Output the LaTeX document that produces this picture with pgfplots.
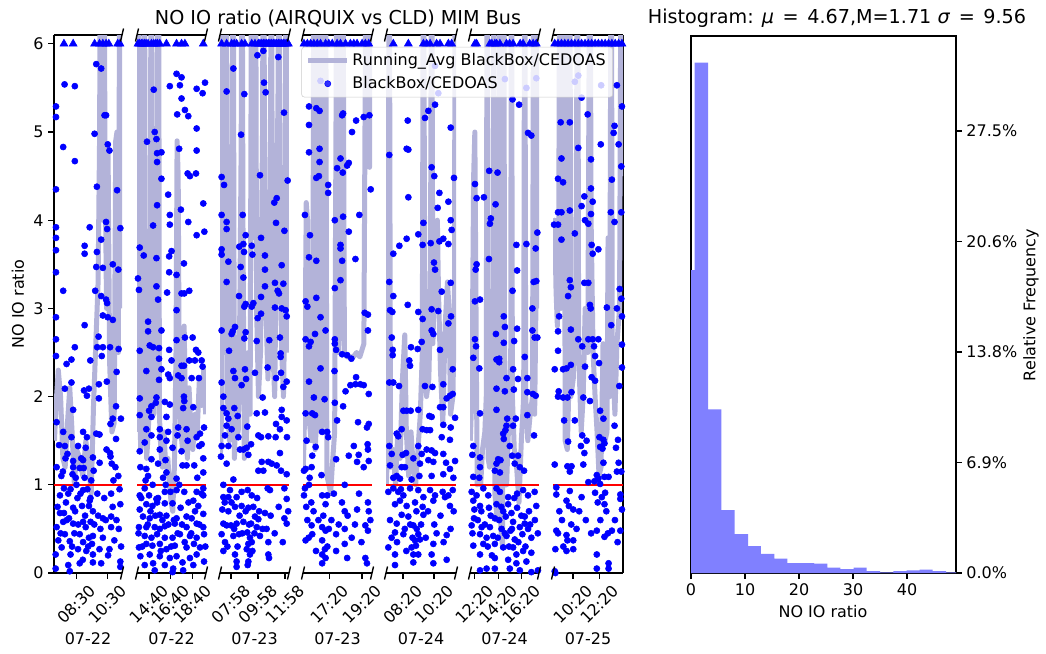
\documentclass[border=0pt]{standalone}
\usepackage{fontspec}
\setmainfont{DejaVu Sans}
\usepackage{pgfplots}
\pgfplotsset{compat=1.18}
\definecolor{avgc}{RGB}{179,179,217}
\definecolor{histc}{RGB}{128,128,255}
\newcommand{\tfont}{\fontsize{11.5}{13.8}\selectfont}
\newcommand{\hfont}{\fontsize{13.8}{16}\selectfont}
\pgfplotsset{
  brk/.style={
    scale only axis, height=387.36pt, anchor=south west,
    ymin=0, ymax=6.1, ytick={0,1,2,3,4,5,6},
    axis x line=box,
    xtick pos=bottom, xtick align=outside, ytick align=outside,
    major tick length=4pt,
    every tick/.style={black, line width=0.9pt},
    axis line style={line width=0.9pt, black},
    tick label style={font=\tfont},
    xticklabel style={yshift=-18.5pt, rotate=45, anchor=center},
    xlabel style={at={(axis description cs:0.5,0)}, anchor=center, yshift=-47.5pt, font=\tfont},
    /pgf/number format/assume math mode=true,
  },
  avg/.style={draw=avgc, line width=3.6pt, line join=round, no markers},
  pts/.style={only marks, mark=*, mark size=2.2pt, color=blue},
  tri/.style={only marks, mark=triangle*, mark size=3.3pt, color=blue, forget plot},
  one/.style={red, line width=1.7pt, forget plot},
  avgleg/.style={legend image code/.code={\draw[##1] (0pt,0pt) -- (28pt,0pt);}},
  ptsleg/.style={legend image code/.code={\path (0pt,0pt) (28pt,0pt); \draw[##1] plot coordinates {(14pt,0pt)};}},
}
\begin{document}
\begin{tikzpicture}
\useasboundingbox (0,0) rectangle (753.12pt,-470.88pt);

% ---------------- Panel 1 ----------------
\begin{axis}[brk, name=p1, at={(38.88pt,-412.56pt)}, width=48.96pt,
  xmin=7.02, xmax=11.46, axis y line*=left,
  xtick={8.5,10.5}, xticklabels={08:30,10:30}, xlabel={07-22}]
\addplot[avg] coordinates {(7.05,1.5)(7.15,1.9)(7.3,2.3)(7.45,2.0)(7.6,1.3)(7.75,1.2)(7.9,1.7)(8.05,2.1)(8.2,1.6)(8.35,1.0)(8.5,1.4)(8.7,1.3)(8.9,1.1)(9.1,1.5)(9.3,1.2)(9.45,0.9)(9.6,1.9)(9.75,2.6)(9.9,3.3)(10.0,5.0)(10.05,8)(10.12,4.5)(10.2,4.0)(10.27,8)(10.35,4.8)(10.45,3.0)(10.55,4.8)(10.65,2.4)(10.8,1.6)(10.95,1.7)(11.05,4.9)(11.13,5.0)(11.22,2.5)(11.33,8)(11.42,3.0)};
\addplot[pts] coordinates {(9.78,5.77)(10.10,5.72)(7.71,5.54)(8.38,5.52)(7.15,5.29)(7.15,5.17)(10.32,5.19)(10.42,5.19)(9.67,4.98)(7.62,4.83)(8.38,4.67)(10.53,4.86)(10.64,4.79)(7.15,4.35)(11.14,4.34)(9.82,4.38)(7.15,3.92)(9.35,3.92)(11.35,3.91)(10.42,3.98)(10.49,3.90)(10.10,3.78)(7.15,3.80)(7.15,3.66)(9.02,3.71)(9.02,3.62)(9.82,3.64)(9.78,3.47)(10.21,3.46)(10.86,3.50)(11.22,3.44)(7.15,3.41)(7.62,3.20)(9.71,3.20)(10.10,3.14)(10.42,3.10)(10.49,3.06)(10.21,2.92)(10.53,2.90)(10.86,2.87)(7.15,2.90)(9.02,2.81)(9.93,2.68)(7.15,2.65)(7.15,2.46)(8.38,2.56)(9.84,2.56)(10.21,2.56)(10.68,2.56)(11.24,2.54)(10.14,2.46)(9.39,2.41)(8.16,2.42)(7.84,2.37)(11.11,2.28)(8.16,2.16)(10.47,2.17)(9.30,2.09)(8.98,2.07)(9.95,2.14)(7.73,2.09)(9.17,2.01)(9.95,1.98)(8.27,1.85)(11.07,1.89)(10.86,1.75)(11.39,1.75)(10.71,1.69)(7.19,1.71)(7.62,1.60)(8.16,1.54)(8.92,1.60)(9.17,1.54)(9.78,1.58)(9.99,1.57)(11.07,1.52)(7.73,1.44)(8.59,1.44)(9.09,1.42)(10.68,1.36)(10.71,1.32)(7.77,1.30)(8.27,1.27)(8.92,1.28)(9.56,1.31)(7.19,1.20)(8.27,1.20)(8.70,1.19)(8.96,1.19)(10.79,1.24)(11.03,1.20)(8.23,1.12)(8.44,1.08)(9.02,1.08)(9.61,1.16)(11.22,1.10)(8.49,1.00)(7.67,0.96)(7.41,0.88)(7.95,0.90)(8.92,0.94)(10.75,0.90)(7.80,0.80)(9.35,0.82)(8.85,0.76)(9.30,0.76)(7.41,0.68)(7.67,0.68)(8.27,0.74)(9.56,0.70)(11.35,0.78)(10.75,0.64)(10.21,0.62)(7.62,0.58)(8.92,0.58)(9.41,0.58)(7.19,0.52)(8.27,0.56)(9.09,0.52)(10.75,0.52)(7.73,0.44)(8.70,0.44)(9.30,0.40)(9.56,0.42)(10.21,0.40)(7.30,0.37)(8.05,0.36)(8.92,0.35)(9.50,0.33)(10.96,0.37)(7.52,0.29)(8.59,0.27)(9.99,0.27)(9.13,0.25)(10.64,0.27)(7.13,0.21)(8.10,0.21)(9.56,0.21)(8.70,0.11)(9.56,0.12)(10.10,0.11)(7.95,0.09)(11.35,0.07)(8.05,0.02)(11.35,0.13)(7.13,0.05)(7.35,1.45)(7.5,1.1)(7.9,1.35)(8.0,0.62)(8.35,0.45)(8.55,0.85)(8.8,1.3)(9.2,0.95)(9.45,1.05)(9.85,0.9)(10.0,1.25)(10.3,0.85)(10.45,1.4)(10.9,1.05)(11.25,0.5)(11.4,0.3)(7.25,0.75)(7.45,0.45)(7.6,1.15)(7.85,0.6)(8.1,0.95)(8.2,0.3)(8.4,0.7)(8.6,0.55)(8.75,0.9)(8.9,0.15)(9.05,0.65)(9.25,0.3)(9.4,0.85)(9.65,0.55)(9.9,0.65)(10.05,0.5)(10.4,0.6)(10.55,0.2)(10.85,0.75)(11.1,0.6)(11.3,0.95)};
\addplot[tri] coordinates {(7.67,6)(8.27,6)(9.67,6)(9.99,6)(10.21,6)(10.42,6)(10.60,6)(11.18,6)(11.33,6)};
\addplot[one] coordinates {(7.02,1)(11.46,1)};
\end{axis}

% ---------------- Panel 2 ----------------
\begin{axis}[brk, name=p2, at={(98.64pt,-412.56pt)}, width=49.68pt,
  xmin=13.56, xmax=19.91, axis y line=none,
  xtick={14.6667,16.6667,18.6667}, xticklabels={14:40,16:40,18:40}, xlabel={07-22}]
\addplot[avg] coordinates {(13.58,1.6)(13.67,2.0)(13.72,8)(13.77,2.2)(13.9,1.4)(14.05,1.6)(14.18,2.0)(14.25,8)(14.32,1.8)(14.45,1.3)(14.6,1.6)(14.75,2.2)(14.87,8)(14.94,2.0)(15.1,1.8)(15.25,2.4)(15.38,3.0)(15.43,8)(15.5,6.0)(15.55,8)(15.62,1.8)(15.75,1.4)(15.9,1.2)(16.05,1.6)(16.2,1.2)(16.4,1.3)(16.55,1.0)(16.7,0.8)(16.85,0.7)(17.0,1.2)(17.15,2.5)(17.25,4.9)(17.35,4.5)(17.45,2.2)(17.6,1.6)(17.75,1.4)(17.9,2.8)(18.05,1.6)(18.2,1.3)(18.35,2.1)(18.5,1.7)(18.7,1.4)(18.9,1.8)(19.1,1.6)(19.3,2.2)(19.5,1.9)(19.7,2.3)(19.88,1.8)};
\addplot[pts] coordinates {(15.10,5.48)(16.58,5.52)(17.20,5.66)(17.66,5.62)(17.51,5.53)(19.05,5.49)(19.60,5.44)(19.82,5.56)(17.66,5.38)(17.97,5.25)(17.26,5.20)(18.28,5.18)(15.19,5.00)(15.35,4.92)(14.48,4.89)(15.41,4.76)(15.81,4.77)(15.41,4.66)(17.44,4.81)(19.05,4.79)(19.05,5.04)(18.22,4.53)(18.43,4.50)(15.81,4.47)(18.99,4.53)(16.43,4.29)(19.66,4.19)(15.41,4.17)(16.58,4.06)(17.60,4.12)(15.04,3.94)(16.58,3.95)(18.28,3.98)(19.05,3.83)(19.76,3.87)(13.81,3.69)(14.18,3.60)(15.35,3.57)(16.52,3.59)(16.74,3.65)(17.88,3.51)(16.52,3.41)(17.20,3.38)(13.65,3.34)(13.74,3.21)(15.35,3.25)(15.50,3.10)(16.33,3.18)(17.66,3.17)(18.37,3.20)(17.91,3.17)(17.20,2.98)(14.58,2.85)(14.58,2.74)(15.81,2.75)(14.73,2.58)(15.04,2.56)(15.59,2.55)(13.81,2.52)(16.52,2.53)(17.20,2.64)(17.97,2.67)(18.68,2.67)(18.99,2.53)(19.20,2.50)(19.51,2.41)(19.60,2.34)(15.59,2.43)(16.74,2.41)(15.81,2.31)(14.42,2.29)(16.43,2.25)(17.35,2.24)(17.66,2.35)(17.88,2.35)(18.37,2.41)(18.89,2.41)(15.59,2.19)(16.58,2.21)(17.66,2.21)(18.59,2.21)(19.26,2.21)(13.81,1.98)(15.35,1.99)(16.12,1.94)(17.88,2.00)(17.91,1.95)(14.89,1.89)(15.29,1.93)(16.58,1.91)(17.81,1.87)(18.74,1.88)(14.67,1.84)(14.89,1.77)(13.81,1.79)(16.27,1.77)(15.66,1.63)(14.42,1.63)(17.35,1.65)(18.12,1.63)(19.36,1.58)(19.73,1.65)(15.66,1.54)(16.43,1.60)(14.89,1.56)(17.29,1.56)(19.05,1.54)(14.27,1.48)(16.27,1.50)(18.22,1.50)(19.51,1.46)(13.81,1.38)(15.66,1.40)(16.83,1.42)(17.66,1.38)(19.29,1.44)(14.89,1.29)(15.50,1.24)(16.18,1.28)(17.75,1.22)(18.12,1.22)(18.83,1.22)(19.66,1.30)(13.87,1.20)(14.42,1.18)(16.27,1.14)(14.58,1.10)(15.96,1.08)(17.20,1.07)(19.11,1.08)(19.66,1.14)(13.81,0.88)(14.27,0.96)(14.67,0.88)(15.35,0.84)(16.12,0.92)(16.64,0.92)(17.20,0.94)(17.91,0.92)(19.05,0.92)(19.66,0.96)(19.66,0.88)(13.81,0.72)(14.42,0.78)(14.98,0.76)(15.41,0.80)(16.12,0.79)(16.83,0.79)(17.57,0.74)(18.74,0.82)(19.20,0.76)(14.11,0.64)(14.73,0.62)(15.66,0.66)(16.27,0.65)(17.20,0.62)(18.12,0.64)(18.59,0.62)(19.66,0.67)(13.74,0.52)(14.42,0.52)(15.19,0.52)(15.66,0.50)(16.12,0.53)(17.04,0.56)(18.12,0.52)(19.05,0.56)(19.66,0.52)(14.27,0.42)(14.89,0.40)(15.41,0.44)(16.12,0.40)(16.83,0.40)(17.51,0.44)(18.43,0.42)(19.05,0.40)(19.73,0.44)(13.74,0.29)(14.42,0.33)(14.98,0.31)(15.66,0.33)(16.27,0.27)(17.04,0.31)(18.12,0.29)(18.80,0.33)(19.36,0.29)(13.87,0.19)(14.73,0.21)(15.66,0.19)(16.58,0.17)(17.20,0.19)(18.43,0.17)(19.05,0.21)(14.27,0.09)(15.04,0.11)(16.12,0.09)(16.89,0.05)(17.75,0.12)(18.74,0.09)(19.73,0.13)(15.19,0.03)(16.83,0.01)(17.81,0.03)(13.7,0.45)(13.95,0.85)(14.05,0.3)(14.35,1.05)(14.55,0.55)(14.8,0.7)(15.0,1.0)(15.25,0.65)(15.5,0.85)(15.75,0.25)(15.9,0.6)(16.2,1.0)(16.45,0.55)(16.7,0.3)(16.95,0.6)(17.3,0.45)(17.45,1.0)(17.7,0.55)(17.95,0.35)(18.3,0.8)(18.55,0.45)(18.9,0.7)(19.3,0.55)(19.5,0.9)(19.85,0.3)};
\addplot[tri] coordinates {(13.65,6)(13.8,6)(13.96,6)(14.1,6)(14.27,6)(14.4,6)(14.58,6)(14.89,6)(15.1,6)(15.29,6)(15.45,6)(15.66,6)(16.27,6)(17.20,6)(17.66,6)(17.97,6)(19.66,6)};
\addplot[one] coordinates {(13.56,1)(19.91,1)};
\end{axis}

% ---------------- Panel 3 ----------------
\begin{axis}[brk, name=p3, at={(158.4pt,-412.56pt)}, width=49.68pt,
  xmin=7.15, xmax=12.26, axis y line=none,
  xtick={7.9667,9.9667,11.9667}, xticklabels={07:58,09:58,11:58}, xlabel={07-23}]
\addplot[avg] coordinates {(7.17,1.3)(7.28,1.8)(7.36,8)(7.44,2.5)(7.55,3.0)(7.62,8)(7.7,2.0)(7.85,1.5)(8.0,2.0)(8.12,8)(8.22,1.3)(8.35,2.2)(8.5,1.6)(8.62,3.0)(8.72,4.9)(8.78,8)(8.85,4.0)(8.95,1.3)(9.1,1.5)(9.25,2.5)(9.38,1.8)(9.5,8)(9.6,4.6)(9.7,3.8)(9.78,8)(9.86,3.0)(10.0,2.0)(10.15,2.5)(10.3,5.0)(10.36,8)(10.45,5.0)(10.55,3.0)(10.7,2.2)(10.85,2.8)(10.95,8)(11.05,2.6)(11.2,2.0)(11.35,4.0)(11.45,5.5)(11.52,8)(11.6,3.8)(11.72,2.5)(11.85,2.0)(11.95,3.0)(12.05,8)(12.15,3.0)(12.24,2.5)};
\addplot[pts] coordinates {(9.92,5.87)(10.36,5.92)(11.47,5.85)(8.14,5.72)(10.41,5.56)(10.53,5.45)(7.64,5.46)(8.95,5.43)(11.89,5.22)(8.71,4.97)(10.11,4.51)(12.16,4.45)(7.27,4.49)(7.45,4.40)(11.35,4.25)(11.17,4.20)(7.27,4.06)(7.64,3.98)(7.64,3.90)(8.83,4.06)(11.30,3.97)(11.92,3.88)(10.19,3.80)(9.05,3.83)(7.27,3.67)(7.27,3.61)(8.58,3.70)(8.88,3.73)(8.93,3.64)(9.50,3.71)(9.55,3.61)(7.77,3.53)(10.48,3.60)(11.72,3.49)(8.68,3.47)(8.88,3.35)(10.48,3.44)(7.64,3.30)(11.22,3.29)(11.84,3.28)(11.42,3.20)(11.52,3.17)(10.48,3.25)(8.56,3.14)(10.19,3.13)(9.05,3.05)(9.62,3.06)(8.95,3.02)(9.50,3.02)(11.22,3.01)(11.72,3.00)(12.01,2.98)(12.09,2.91)(9.94,2.89)(10.19,2.94)(7.27,2.75)(8.09,2.74)(8.26,2.79)(8.01,2.71)(8.95,2.66)(9.05,2.73)(9.87,2.63)(10.80,2.64)(11.59,2.67)(7.82,2.52)(11.64,2.49)(11.64,2.45)(8.14,2.29)(9.00,2.31)(9.74,2.27)(10.68,2.33)(11.30,2.21)(11.67,2.27)(8.26,2.21)(9.08,2.20)(12.09,2.17)(7.27,2.16)(11.84,2.11)(8.75,2.13)(7.40,2.00)(10.31,1.99)(7.40,1.87)(8.21,1.87)(7.64,1.81)(8.46,1.78)(9.87,1.81)(10.48,1.82)(11.72,1.85)(11.72,1.77)(12.09,1.73)(7.77,1.75)(7.64,1.67)(8.01,1.63)(9.17,1.66)(11.30,1.69)(11.59,1.63)(7.52,1.56)(9.99,1.56)(10.19,1.54)(10.73,1.55)(11.27,1.54)(12.11,1.54)(8.51,1.54)(7.27,1.44)(8.63,1.40)(8.88,1.40)(7.77,1.44)(9.13,1.42)(9.45,1.46)(7.22,1.32)(7.64,1.24)(9.25,1.34)(11.59,1.36)(10.24,1.26)(10.36,1.16)(10.73,1.26)(10.98,1.24)(11.35,1.22)(9.99,1.16)(11.67,1.16)(12.09,1.12)(7.40,1.00)(8.14,1.06)(7.89,0.94)(7.77,0.86)(7.40,0.86)(8.38,0.86)(8.75,0.92)(9.20,0.94)(9.50,0.88)(10.68,0.96)(10.85,0.94)(11.92,0.96)(12.09,0.84)(7.32,0.72)(7.77,0.70)(8.26,0.75)(8.75,0.76)(9.25,0.74)(9.62,0.75)(9.74,0.64)(9.99,0.61)(10.48,0.68)(11.92,0.62)(7.40,0.56)(7.64,0.54)(7.96,0.54)(8.38,0.56)(8.88,0.58)(9.45,0.56)(9.87,0.52)(12.09,0.56)(7.27,0.44)(8.14,0.42)(8.56,0.44)(9.17,0.46)(9.37,0.40)(10.11,0.42)(7.52,0.35)(9.25,0.33)(9.50,0.35)(10.73,0.35)(9.13,0.27)(7.40,0.25)(8.26,0.21)(9.37,0.21)(8.38,0.13)(9.25,0.13)(8.38,0.07)(9.20,0.09)(10.73,0.21)(10.78,0.17)(7.5,0.8)(7.7,0.3)(8.0,0.8)(8.2,0.5)(8.45,0.3)(8.6,0.65)(8.8,0.45)(9.05,0.7)(9.3,0.55)(9.55,0.25)(9.7,0.45)(9.9,0.85)(10.05,0.7)(10.3,0.5)(10.6,0.5)(10.9,0.65)(11.2,0.45)(11.5,0.75)(11.8,0.35)(12.2,0.7)};
\addplot[tri] coordinates {(7.27,6)(7.64,6)(8.01,6)(8.2,6)(8.38,6)(8.75,6)(9.00,6)(9.50,6)(9.74,6)(9.99,6)(10.11,6)(10.24,6)(10.36,6)(10.48,6)(10.61,6)(10.73,6)(10.85,6)(10.98,6)(11.10,6)(11.22,6)(11.35,6)(11.47,6)(11.59,6)(11.72,6)(11.84,6)(11.96,6)(12.09,6)(12.21,6)};
\addplot[one] coordinates {(7.15,1)(12.26,1)};
\end{axis}

% ---------------- Panel 4 ----------------
\begin{axis}[brk, name=p4, at={(218.16pt,-412.56pt)}, width=49.68pt,
  xmin=15.70, xmax=19.95, axis y line=none,
  xtick={17.3333,19.3333}, xticklabels={17:20,19:20}, xlabel={07-23}]
\addplot[avg] coordinates {(15.72,1.2)(15.8,1.8)(15.9,4.2)(15.98,4.0)(16.05,1.8)(16.2,1.5)(16.3,1.7)(16.37,8)(16.45,1.4)(16.6,2.0)(16.72,8)(16.8,1.6)(16.95,1.8)(17.09,8)(17.17,1.1)(17.3,1.0)(17.4,0.9)(17.5,1.2)(17.65,1.6)(17.8,8)(17.88,2.5)(18.02,3.0)(18.15,8)(18.25,2.5)(18.4,2.45)(18.6,2.45)(18.8,2.45)(19.0,2.5)(19.2,2.45)(19.45,2.6)(19.6,8)(19.7,5.0)(19.8,4.6)(19.9,8)};
\addplot[pts] coordinates {(16.78,5.58)(16.07,5.29)(16.52,5.27)(16.72,5.24)(18.11,5.19)(18.17,5.21)(18.97,5.13)(19.44,5.17)(19.79,5.19)(18.72,5.00)(16.07,5.08)(16.07,4.77)(16.72,4.81)(18.01,4.70)(18.52,4.65)(18.42,4.62)(16.72,4.66)(17.80,4.59)(18.15,4.54)(16.52,4.48)(16.68,4.50)(17.25,4.40)(17.25,4.31)(19.87,4.35)(15.82,4.06)(17.66,4.00)(18.17,4.04)(19.17,4.06)(18.52,3.87)(16.13,3.83)(18.01,3.72)(18.01,3.68)(18.93,3.56)(16.07,3.58)(16.52,3.54)(18.11,3.54)(18.01,3.32)(17.66,3.23)(15.86,3.08)(15.97,3.02)(16.52,3.12)(16.78,2.90)(19.50,2.95)(19.70,2.93)(19.70,2.75)(15.86,2.65)(16.17,2.62)(16.07,2.57)(16.44,2.71)(17.09,2.75)(17.66,2.65)(17.66,2.60)(17.74,2.53)(18.11,2.48)(18.42,2.47)(18.68,2.43)(16.78,2.32)(16.07,2.17)(17.64,2.29)(18.97,2.22)(18.62,2.13)(18.93,2.14)(19.23,2.14)(19.44,2.13)(18.32,2.06)(19.75,2.03)(16.37,1.99)(17.03,1.97)(17.66,1.93)(18.17,1.89)(15.86,1.81)(16.27,1.81)(16.44,1.79)(17.80,1.73)(19.09,1.71)(19.64,1.65)(19.75,1.69)(16.88,1.60)(17.19,1.60)(17.25,1.54)(15.92,1.50)(16.48,1.43)(17.74,1.29)(18.52,1.33)(18.83,1.44)(19.13,1.34)(19.70,1.40)(19.68,1.46)(16.27,1.33)(15.86,1.18)(16.23,1.20)(15.76,1.16)(16.11,1.08)(16.84,1.11)(19.03,1.26)(19.44,1.20)(19.75,1.27)(16.07,1.00)(15.82,0.96)(15.76,0.88)(16.88,0.88)(17.09,0.78)(16.21,0.80)(17.19,0.88)(18.27,1.00)(18.27,0.70)(19.03,0.72)(19.70,0.80)(19.75,0.70)(15.97,0.60)(16.23,0.54)(16.88,0.52)(17.09,0.48)(17.29,0.50)(17.74,0.44)(18.27,0.50)(19.54,0.54)(19.70,0.48)(16.27,0.44)(16.88,0.37)(18.27,0.33)(17.05,0.27)(16.88,0.21)(17.09,0.17)(16.88,0.11)(17.74,0.25)(19.54,0.17)(19.64,0.11)(15.86,0.37)(18.42,0.17)(15.9,0.75)(16.05,0.4)(16.35,0.7)(16.5,0.25)(16.65,0.6)(16.95,0.65)(17.2,0.3)(17.45,0.6)(17.6,0.9)(17.9,0.55)(18.1,0.8)(18.45,0.65)(18.7,0.4)(18.9,0.55)(19.15,0.9)(19.3,0.35)(19.85,0.6)};
\addplot[tri] coordinates {(15.76,6)(15.97,6)(16.17,6)(16.37,6)(16.58,6)(16.78,6)(17.09,6)(17.29,6)(17.50,6)(17.80,6)(18.01,6)(18.32,6)(18.62,6)(18.83,6)(19.03,6)(19.34,6)(19.54,6)(19.75,6)};
\addplot[one] coordinates {(15.70,1)(19.95,1)};
\end{axis}

% ---------------- Panel 5 ----------------
\begin{axis}[brk, name=p5, at={(277.92pt,-412.56pt)}, width=50.4pt,
  xmin=7.24, xmax=11.75, axis y line=none,
  xtick={8.3333,10.3333}, xticklabels={08:20,10:20}, xlabel={07-24}]
\addplot[avg] coordinates {(7.26,1.0)(7.36,1.5)(7.45,8)(7.53,1.2)(7.7,1.4)(7.85,1.0)(8.0,1.6)(8.15,1.3)(8.3,2.2)(8.45,2.7)(8.55,1.6)(8.7,1.1)(8.85,1.6)(9.0,1.2)(9.15,1.0)(9.3,1.4)(9.45,1.8)(9.58,2.5)(9.65,8)(9.73,3.5)(9.85,2.0)(10.0,2.2)(10.1,3.0)(10.18,8)(10.26,2.6)(10.4,3.6)(10.55,4.0)(10.62,3.2)(10.75,2.3)(10.9,1.7)(11.05,2.8)(11.2,3.3)(11.3,3.0)(11.4,1.8)(11.55,2.0)(11.65,3.0)(11.7,8)(11.74,6)};
\addplot[pts] coordinates {(10.40,5.75)(10.61,5.44)(10.40,5.31)(9.97,5.24)(9.75,5.16)(8.64,5.13)(8.57,4.81)(8.68,4.80)(11.41,5.05)(11.62,4.48)(7.45,4.74)(10.18,4.60)(10.35,4.50)(10.68,4.31)(10.57,4.14)(11.26,4.21)(8.68,4.26)(9.65,3.97)(11.41,4.00)(11.47,3.89)(9.32,3.84)(8.57,3.79)(8.10,3.71)(7.71,3.62)(9.60,3.72)(10.12,3.74)(10.68,3.76)(10.93,3.79)(11.26,3.73)(10.33,3.52)(10.40,3.44)(7.45,3.30)(7.71,3.14)(10.83,3.19)(11.41,3.29)(7.50,2.98)(7.65,2.96)(8.64,3.04)(9.32,2.96)(9.60,2.88)(10.18,2.99)(10.61,2.97)(11.43,2.91)(11.26,2.83)(10.18,2.75)(10.29,2.71)(7.61,2.67)(9.54,2.62)(10.72,2.53)(8.85,2.56)(9.28,2.54)(7.67,2.53)(7.67,2.47)(8.74,2.41)(8.79,2.35)(11.54,2.31)(7.45,2.16)(7.71,2.16)(8.08,2.12)(9.75,2.12)(10.23,2.11)(10.93,2.14)(11.54,2.03)(11.36,2.01)(11.15,1.98)(10.93,1.88)(8.36,1.84)(8.57,1.84)(8.83,1.84)(9.32,1.85)(10.03,1.78)(10.18,1.77)(10.72,1.88)(11.69,1.76)(8.25,1.63)(9.60,1.63)(9.86,1.62)(10.08,1.62)(10.93,1.68)(11.41,1.65)(7.93,1.58)(8.03,1.55)(7.45,1.44)(9.32,1.44)(10.83,1.54)(11.36,1.51)(9.86,1.40)(10.18,1.39)(7.61,1.35)(8.31,1.34)(8.53,1.36)(9.54,1.35)(10.40,1.36)(10.93,1.35)(7.50,1.22)(8.25,1.20)(8.46,1.20)(9.00,1.30)(9.43,1.24)(9.97,1.28)(10.29,1.26)(11.11,1.25)(11.36,1.18)(11.69,1.27)(7.71,1.08)(7.93,1.10)(8.14,1.07)(8.89,1.06)(9.39,1.10)(10.18,1.10)(10.93,1.12)(11.58,1.08)(7.39,0.92)(7.71,0.96)(8.03,0.92)(8.36,0.88)(8.79,0.96)(9.32,0.94)(9.65,0.86)(10.08,0.94)(10.40,0.88)(10.89,0.92)(11.26,0.88)(11.54,0.94)(7.82,0.78)(8.14,0.82)(8.57,0.76)(9.11,0.80)(9.60,0.75)(10.29,0.82)(11.04,0.86)(8.25,0.66)(8.68,0.64)(9.65,0.66)(11.36,0.76)(7.93,0.56)(9.00,0.54)(9.22,0.50)(7.82,0.46)(8.36,0.44)(9.32,0.44)(11.15,0.43)(9.11,0.37)(9.43,0.38)(10.29,0.33)(8.89,0.29)(9.17,0.31)(7.39,0.29)(7.82,0.21)(9.00,0.21)(9.32,0.21)(10.18,0.21)(9.00,0.12)(7.82,0.09)(10.29,0.11)(11.15,0.15)(7.5,0.6)(7.6,0.4)(7.95,0.35)(8.2,0.95)(8.45,0.5)(8.55,0.25)(8.8,0.55)(8.95,0.4)(9.2,0.7)(9.5,0.55)(9.8,0.4)(9.95,0.7)(10.35,0.55)(10.5,0.45)(10.75,0.65)(10.95,0.35)(11.4,0.5)(11.6,0.7)};
\addplot[tri] coordinates {(7.71,6)(8.68,6)(9.65,6)(9.86,6)(10.08,6)(10.50,6)(10.72,6)(11.26,6)(11.47,6)};
\addplot[one] coordinates {(7.24,1)(11.75,1)};
\end{axis}

% ---------------- Panel 6 ----------------
\begin{axis}[brk, name=p6, at={(338.4pt,-412.56pt)}, width=49.68pt,
  xmin=11.94, xmax=17.80, axis y line=none,
  xtick={12.3333,14.3333,16.3333}, xticklabels={12:20,14:20,16:20}, xlabel={07-24}]
\addplot[avg] coordinates {(11.96,1.5)(12.1,2.0)(12.25,4.5)(12.35,5.0)(12.45,3.0)(12.55,1.0)(12.7,1.2)(12.85,1.0)(13.0,1.4)(13.2,1.6)(13.32,2.0)(13.4,8)(13.48,1.3)(13.6,1.2)(13.75,1.5)(13.9,2.0)(13.97,8)(14.05,0.9)(14.25,0.6)(14.4,1.2)(14.48,8)(14.56,0.5)(14.7,0.3)(14.81,8)(14.89,1.0)(15.05,1.0)(15.25,1.8)(15.4,2.5)(15.46,8)(15.54,2.0)(15.7,1.4)(15.9,1.2)(16.1,0.8)(16.3,1.5)(16.5,2.0)(16.59,8)(16.67,2.0)(16.85,1.5)(17.05,1.8)(17.25,2.0)(17.35,8)(17.43,1.8)(17.58,3.5)(17.68,8)(17.78,3.0)};
\addplot[pts] coordinates {(14.90,5.60)(16.73,5.50)(17.57,5.61)(15.55,5.37)(16.11,5.31)(17.15,4.96)(16.87,4.99)(13.57,4.56)(14.28,4.54)(12.36,4.41)(12.50,4.25)(13.12,4.26)(14.11,4.18)(13.71,4.02)(13.63,3.96)(17.66,3.86)(16.73,3.73)(17.52,3.68)(15.88,3.72)(13.55,3.56)(12.50,3.50)(12.42,3.44)(15.94,3.43)(17.57,3.31)(17.35,3.30)(15.55,3.20)(12.36,3.08)(12.79,3.10)(17.24,3.00)(14.81,2.91)(14.90,2.79)(15.94,2.77)(17.43,2.67)(17.66,2.67)(17.24,2.75)(12.36,2.65)(12.45,2.57)(14.14,2.71)(14.81,2.61)(15.69,2.63)(12.22,2.44)(14.19,2.42)(14.42,2.43)(14.42,2.39)(16.59,2.45)(12.73,2.32)(15.60,2.31)(15.04,2.21)(16.02,2.20)(16.81,2.21)(14.19,2.09)(14.90,2.06)(15.66,2.08)(16.81,2.05)(17.29,2.03)(17.52,2.01)(12.79,1.81)(14.19,1.85)(15.10,1.75)(16.81,1.79)(14.76,1.58)(14.95,1.62)(14.81,1.52)(15.04,1.67)(15.60,1.67)(15.83,1.75)(17.38,1.56)(15.32,1.44)(12.22,1.44)(12.14,1.34)(12.79,1.31)(14.33,1.29)(14.53,1.28)(14.19,1.24)(15.52,1.33)(15.74,1.24)(16.17,1.20)(16.02,1.33)(12.79,1.20)(14.05,1.16)(14.48,1.14)(16.53,1.16)(12.22,1.09)(12.73,1.08)(12.08,0.92)(12.50,0.88)(12.22,0.82)(13.07,0.96)(13.49,0.88)(14.19,0.96)(14.48,0.92)(15.18,0.86)(15.94,0.90)(16.45,0.94)(16.87,0.88)(17.43,0.92)(12.31,0.72)(12.79,0.76)(13.55,0.74)(14.19,0.78)(14.76,0.70)(15.18,0.78)(15.46,0.68)(15.94,0.74)(16.59,0.64)(16.95,0.70)(17.57,0.76)(12.28,0.62)(14.05,0.62)(14.42,0.60)(14.98,0.64)(15.60,0.58)(16.59,0.56)(12.08,0.54)(12.93,0.52)(13.63,0.52)(14.62,0.50)(15.38,0.48)(16.17,0.52)(16.87,0.50)(12.79,0.44)(13.35,0.40)(13.91,0.42)(15.04,0.42)(15.74,0.38)(16.39,0.44)(17.15,0.40)(12.22,0.31)(13.07,0.33)(14.05,0.33)(14.76,0.29)(15.60,0.29)(15.88,0.21)(16.45,0.25)(17.15,0.23)(12.79,0.21)(14.05,0.17)(15.18,0.15)(15.88,0.11)(16.73,0.13)(12.79,0.03)(13.35,0.05)(14.05,0.05)(15.32,0.05)(16.17,0.03)(17.15,0.01)(17.71,0.03)(12.15,0.45)(12.6,0.6)(12.9,0.7)(13.2,0.55)(13.45,0.3)(13.7,0.65)(13.8,0.2)(14.3,0.4)(14.6,0.75)(14.9,0.45)(15.25,0.3)(15.5,0.5)(15.7,0.85)(16.05,0.35)(16.3,0.65)(16.65,0.3)(17.05,0.55)(17.45,0.6)(17.7,0.45)};
\addplot[tri] coordinates {(12.36,6)(12.5,6)(13.63,6)(13.8,6)(14.05,6)(14.2,6)(14.48,6)(15.04,6)(15.3,6)(15.60,6)(16.2,6)(16.45,6)(17.01,6)(17.3,6)(17.57,6)};
\addplot[one] coordinates {(11.94,1)(17.80,1)};
\end{axis}

% ---------------- Panel 7 ----------------
\begin{axis}[brk, name=p7, at={(398.16pt,-412.56pt)}, width=50.4pt,
  xmin=8.82, xmax=14.11, axis y line*=right, ytick=\empty,
  xtick={10.3333,12.3333}, xticklabels={10:20,12:20}, xlabel={07-25},
  legend style={at={(0.857,0.978)}, anchor=north east, draw=black!20, fill=white,
    fill opacity=0.8, draw opacity=1, text opacity=1, rounded corners=2pt,
    font=\tfont, row sep=2.5pt, inner xsep=3pt, inner ysep=2.5pt},
  legend cell align=left]
\addplot[avg, avgleg] coordinates {(8.84,3.5)(8.95,4.0)(9.05,3.2)(9.15,2.8)(9.25,3.5)(9.33,8)(9.42,3.0)(9.55,3.8)(9.66,8)(9.74,1.5)(9.9,1.4)(10.0,2.0)(10.09,8)(10.17,2.0)(10.35,2.2)(10.55,3.0)(10.68,8)(10.76,2.5)(10.95,1.6)(11.1,2.0)(11.25,3.0)(11.45,2.5)(11.61,8)(11.7,4.0)(11.85,2.5)(12.0,2.0)(12.15,1.6)(12.3,1.1)(12.45,1.2)(12.6,2.6)(12.75,1.5)(12.9,1.6)(12.98,3.8)(13.1,2.0)(13.22,8)(13.3,2.5)(13.5,1.8)(13.65,2.6)(13.85,3.0)(13.98,8)(14.06,5)(14.1,4.5)};
\addlegendentry{Running\_Avg BlackBox/CEDOAS}
\addplot[pts, ptsleg] coordinates {(10.73,5.64)(10.47,5.57)(12.46,5.53)(13.65,5.53)(10.98,5.39)(14.03,5.29)(11.44,5.20)(9.40,5.11)(10.09,5.11)(13.47,5.07)(13.40,4.99)(13.78,4.86)(12.43,4.86)(10.73,4.82)(13.98,4.61)(11.69,4.69)(9.46,4.70)(9.20,4.47)(9.58,4.43)(13.27,4.46)(11.69,4.36)(11.19,4.27)(11.82,4.21)(10.98,4.16)(9.20,4.09)(9.46,4.09)(10.09,4.11)(11.69,4.07)(13.19,4.09)(13.98,4.09)(11.24,4.00)(11.49,3.96)(13.47,3.98)(8.90,3.95)(9.20,3.95)(9.46,3.78)(10.47,3.85)(11.74,3.72)(12.25,3.67)(11.82,3.62)(10.09,3.32)(10.17,3.24)(11.19,3.29)(11.49,3.29)(9.96,3.14)(11.61,3.04)(11.67,3.00)(13.86,3.22)(13.98,3.11)(12.89,3.01)(13.65,3.00)(14.03,2.91)(9.28,2.91)(13.22,2.81)(9.20,2.74)(10.17,2.76)(10.73,2.65)(11.03,2.57)(11.49,2.65)(11.82,2.65)(12.25,2.65)(11.92,2.57)(14.03,2.59)(9.20,2.52)(8.95,2.31)(9.58,2.31)(9.84,2.32)(10.17,2.36)(11.24,2.34)(12.00,2.46)(12.30,2.38)(14.03,2.33)(11.74,2.22)(12.00,2.18)(13.83,2.12)(9.25,2.06)(9.20,2.00)(9.58,1.99)(9.91,1.99)(10.22,2.05)(11.11,1.99)(11.61,1.95)(12.38,1.84)(12.63,1.75)(9.66,1.73)(10.47,1.73)(13.47,1.67)(12.33,1.54)(12.63,1.51)(12.71,1.47)(12.38,1.43)(12.56,1.41)(11.03,1.56)(11.36,1.50)(10.93,1.44)(11.19,1.36)(13.73,1.51)(13.58,1.42)(9.96,1.49)(8.95,1.23)(9.91,1.21)(10.22,1.21)(10.09,1.15)(11.11,1.23)(12.13,1.11)(11.95,1.04)(12.25,1.07)(12.71,1.09)(13.02,1.09)(12.63,1.25)(13.65,1.15)(13.78,1.25)(13.98,1.15)(11.49,1.03)(12.38,1.01)(9.07,0.97)(9.07,0.89)(10.09,0.93)(9.84,0.82)(10.98,0.86)(12.00,0.91)(12.51,0.86)(12.20,0.80)(12.76,0.91)(12.71,0.78)(13.91,0.89)(13.91,0.84)(10.35,0.72)(10.02,0.76)(14.03,0.72)(9.07,0.48)(9.20,0.45)(9.84,0.43)(9.91,0.37)(10.35,0.37)(9.84,0.25)(12.13,0.48)(12.71,0.41)(12.97,0.45)(13.27,0.48)(13.91,0.48)(9.00,0.27)(10.35,0.27)(12.13,0.21)(13.02,0.11)(12.13,0.05)(13.02,0.05)(8.95,0.02)(9.00,0.0)(9.3,0.7)(9.5,0.6)(9.6,0.3)(10.2,0.55)(10.6,0.5)(10.8,0.7)(11.3,0.6)(11.7,0.45)(12.4,0.6)(12.85,0.7)(13.5,0.6)(13.7,0.35)};
\addlegendentry{BlackBox/CEDOAS}
\addplot[tri] coordinates {(8.95,6)(9.2,6)(9.46,6)(9.71,6)(9.96,6)(10.22,6)(10.47,6)(10.73,6)(10.98,6)(11.24,6)(11.49,6)(11.74,6)(12.0,6)(12.25,6)(12.51,6)(12.76,6)(13.02,6)(13.27,6)(13.52,6)(13.78,6)(14.03,6)};
\addplot[one] coordinates {(8.82,1)(14.11,1)};
\end{axis}

% break marks
\foreach \a in {p1,p2,p3,p4,p5,p6}{
  \draw[line width=1pt] ([xshift=-1.1pt,yshift=-4.7pt]\a.north east) -- ([xshift=1.1pt,yshift=4.7pt]\a.north east);
  \draw[line width=1pt] ([xshift=-1.1pt,yshift=-4.7pt]\a.south east) -- ([xshift=1.1pt,yshift=4.7pt]\a.south east);
}
\foreach \a in {p2,p3,p4,p5,p6,p7}{
  \draw[line width=1pt] ([xshift=-1.1pt,yshift=-4.7pt]\a.north west) -- ([xshift=1.1pt,yshift=4.7pt]\a.north west);
  \draw[line width=1pt] ([xshift=-1.1pt,yshift=-4.7pt]\a.south west) -- ([xshift=1.1pt,yshift=4.7pt]\a.south west);
}

% ---------------- Histogram ----------------
\begin{axis}[name=h, scale only axis, width=190.8pt, height=386.64pt, anchor=south west,
  at={(497.52pt,-412.56pt)},
  xmin=0, xmax=49.07, ymin=0, ymax=243, enlargelimits=false,
  xtick={0,10,20,30,40}, ytick={0,50,100,150,200},
  yticklabels={0.0\%,6.9\%,13.8\%,20.6\%,27.5\%},
  xtick pos=bottom, ytick pos=right, yticklabel pos=right,
  tick align=outside, major tick length=4pt,
  every tick/.style={black, line width=0.9pt},
  axis line style={line width=0.9pt, black},
  tick label style={font=\tfont},
  /pgf/number format/assume math mode=true]
\addplot[ybar interval, fill=histc, draw=none] coordinates {(-1.79,137)(0.68,231)(3.15,74)(5.62,28.5)(8.09,17.6)(10.56,12.2)(12.96,8.7)(15.43,6.5)(17.84,4.5)(20.31,4.5)(22.78,4.2)(25.25,2.4)(27.65,1.8)(30.12,2.4)(32.53,0.9)(35.0,0.3)(37.47,0.9)(39.94,1.2)(42.35,1.5)(44.75,0.9)(47.22,0.3)(49.69,0.3)};
\end{axis}

% titles and labels
\node[font=\hfont] at (338*0.72pt,-18*0.72pt) {NO IO ratio (AIRQUIX vs CLD) MIM Bus};
\node[font=\hfont] at (837*0.72pt,-18*0.72pt) {Histogram: \textit{μ}\hspace{0.45em}=\hspace{0.45em}4.67,M=1.71 \textit{σ}\hspace{0.45em}=\hspace{0.45em}9.56};
\node[rotate=90, font=\tfont] at (18*0.72pt,-304*0.72pt) {NO IO ratio};
\node[rotate=90, font=\tfont] at (1031*0.72pt,-305*0.72pt) {Relative Frequency};
\node[font=\tfont] at (823*0.72pt,-612*0.72pt) {NO IO ratio};
\end{tikzpicture}
\end{document}
